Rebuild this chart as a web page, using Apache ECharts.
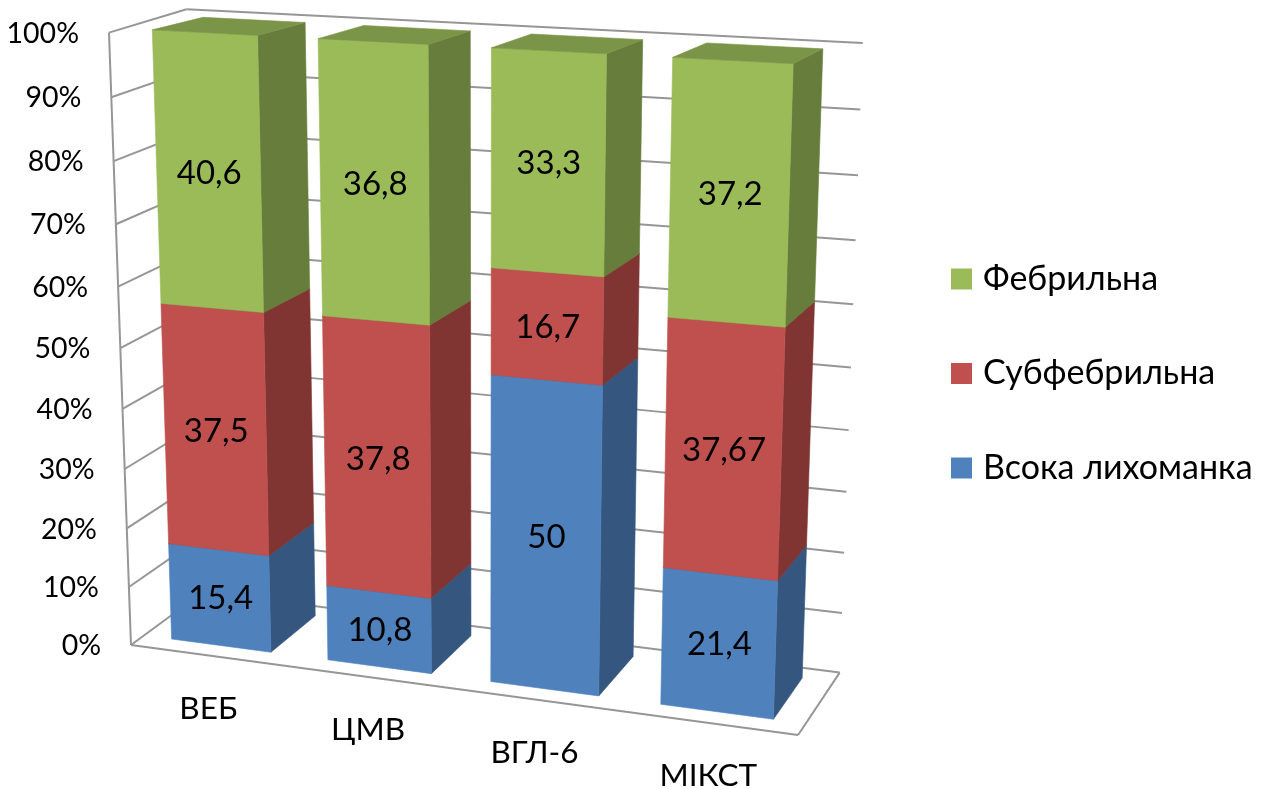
<!DOCTYPE html>
<html>
<head>
<meta charset="utf-8">
<style>html,body{margin:0;padding:0;background:#fff}#chart{width:1267px;height:789px}</style>
<script src="https://cdn.jsdelivr.net/npm/echarts@6/dist/echarts.min.js"></script>
</head>
<body>
<div id="chart"></div>
<script>
// Share of fever grades per infection group, drawn as 100% stacked columns in perspective.
const categories = ['ВЕБ', 'ЦМВ', 'ВГЛ-6', 'МІКСТ'];
const seriesNames = ['Всока лихоманка', 'Субфебрильна', 'Фебрильна'];
const highFever = [15.4, 10.8, 50, 21.4];
const subfebrile = [37.5, 37.8, 16.7, 37.67];
const febrile = [40.6, 36.8, 33.3, 37.2];
const valueTicks = [0, 10, 20, 30, 40, 50, 60, 70, 80, 90, 100];
const tickLabels = ['0%', '10%', '20%', '30%', '40%', '50%', '60%', '70%', '80%', '90%', '100%'];

const seriesValues = [highFever, subfebrile, febrile];
const faceColors = [
  { front: '#4F81BD', side: '#34567F', top: '#3F6797' },
  { front: '#C0504D', side: '#803533', top: '#9A403E' },
  { front: '#9BBB59', side: '#677D3B', top: '#7A9448' }
];
const FONT = 'Lato, "Open Sans", sans-serif';

// Camera: vanishing points of the width, height and depth directions,
// plus the screen position of the near-left floor corner and the axis unit points.
const VP = { u: [-7377, -368], v: [482, 10412], w: [1558, -405] };
const ORIGIN = [131, 645];
const K = { u: -0.0816, v: -0.059, w: 0.0532 };
const BAR_HALF_SHARE = 0.32;          // half bar width as a share of the category band
const DEPTH_NEAR = 0.175, DEPTH_FAR = 0.84;
const FAR_HEIGHT_SCALE = 0.995;       // rear edges of a column sit a touch lower

function project(u, v, w) {
  const a = K.u * u, b = K.v * v, c = K.w * w, d = a + b + c + 1;
  return [
    (a * VP.u[0] + b * VP.v[0] + c * VP.w[0] + ORIGIN[0]) / d,
    (a * VP.u[1] + b * VP.v[1] + c * VP.w[1] + ORIGIN[1]) / d
  ];
}

// Grid pixels (from the hidden cartesian axes) to unit scene coordinates.
function unit(pt, cs) {
  return [(pt[0] - cs.x) / cs.width, (cs.y + cs.height - pt[1]) / cs.height];
}

function poly(points, fill) {
  return { type: 'polygon', shape: { points }, style: { fill, stroke: fill, lineWidth: 0.6 } };
}
function seg(a, b) {
  return {
    type: 'line',
    shape: { x1: a[0], y1: a[1], x2: b[0], y2: b[1] },
    style: { stroke: '#969696', lineWidth: 2 }
  };
}
function label(text, p, size, align) {
  return {
    type: 'text',
    style: { text, x: p[0], y: p[1], fill: '#000', font: size + 'px ' + FONT, align, verticalAlign: 'middle' }
  };
}

function renderWallLine(params, api) {
  const cs = params.coordSys;
  const v = unit(api.coord([0, api.value(0)]), cs)[1];
  const near = project(0, v, 0), corner = project(0, v, 1), far = project(1, v, 1);
  return {
    type: 'group',
    children: [
      seg(near, corner),
      seg(corner, far),
      label(tickLabels[params.dataIndex], [near[0] - 30, near[1] + 1], 28.5, 'right')
    ]
  };
}

function renderFrame(params, api) {
  const cs = params.coordSys;
  const children = [
    seg(project(0, 0, 0), project(0, 1, 0)),
    seg(project(0, 0, 0), project(1, 0, 0)),
    seg(project(1, 0, 0), project(1, 0, 1))
  ];
  categories.forEach((name, i) => {
    const u = unit(api.coord([i, 0]), cs)[0];
    const p = project(u, 0, 0);
    children.push(label(name, [p[0], p[1] + 53], 31.5, 'center'));
  });
  return { type: 'group', children };
}

function renderSegment(params, api) {
  const cs = params.coordSys;
  const colors = faceColors[params.seriesIndex - 2];
  const cat = api.value(0);
  const lo = unit(api.coord([cat, api.value(1)]), cs);
  const hi = unit(api.coord([cat, api.value(2)]), cs);
  const half = api.size([1, 0])[0] * BAR_HALF_SHARE / cs.width;
  const L = lo[0] - half, R = lo[0] + half;
  const P = (u, v, w) => project(u, v, w);
  const loFar = lo[1] * FAR_HEIGHT_SCALE, hiFar = hi[1] * FAR_HEIGHT_SCALE;
  const mid = P(lo[0], (lo[1] + hi[1]) / 2, DEPTH_NEAR);
  return {
    type: 'group',
    children: [
      poly([P(R, lo[1], DEPTH_NEAR), P(R, loFar, DEPTH_FAR), P(R, hiFar, DEPTH_FAR), P(R, hi[1], DEPTH_NEAR)], colors.side),
      poly([P(L, lo[1], DEPTH_NEAR), P(R, lo[1], DEPTH_NEAR), P(R, hi[1], DEPTH_NEAR), P(L, hi[1], DEPTH_NEAR)], colors.front),
      poly([P(L, hi[1], DEPTH_NEAR), P(R, hi[1], DEPTH_NEAR), P(R, hiFar, DEPTH_FAR), P(L, hiFar, DEPTH_FAR)], colors.top),
      label(String(api.value(3)).replace('.', ','), [mid[0] + 1, mid[1] + 1], 33, 'center')
    ]
  };
}

// Each column is normalised to 100%, the printed label keeps the source value.
const totals = categories.map((_, i) => seriesValues.reduce((s, arr) => s + arr[i], 0));
function stackedData(k) {
  return categories.map((_, i) => {
    const below = seriesValues.slice(0, k).reduce((s, arr) => s + arr[i], 0);
    return [i, below / totals[i] * 100, (below + seriesValues[k][i]) / totals[i] * 100, seriesValues[k][i]];
  });
}

const chart = echarts.init(document.getElementById('chart'), null, { renderer: 'canvas' });
chart.setOption({
  animation: false,
  backgroundColor: '#fff',
  grid: { left: 100, top: 100, width: 700, height: 500 },
  xAxis: { type: 'category', data: categories, show: false },
  yAxis: { type: 'value', min: 0, max: 100, interval: 10, show: false },
  legend: {
    orient: 'vertical',
    left: 951,
    top: 262,
    padding: 0,
    itemWidth: 21,
    itemHeight: 21,
    itemGap: 60.5,
    icon: 'rect',
    data: [seriesNames[2], seriesNames[1], seriesNames[0]],
    textStyle: { fontFamily: FONT, fontSize: 34, color: '#000', padding: [0, 0, 0, 6] }
  },
  series: [
    { type: 'custom', name: 'wall', silent: true, renderItem: renderWallLine, data: valueTicks.map(t => [t]), encode: { y: 0 } },
    { type: 'custom', name: 'frame', silent: true, renderItem: renderFrame, data: [[0]] }
  ].concat(seriesNames.map((name, k) => ({
    type: 'custom',
    name,
    silent: true,
    itemStyle: { color: faceColors[k].front },
    renderItem: renderSegment,
    data: stackedData(k),
    encode: { x: 0, y: [1, 2] }
  })))
});
</script>
</body>
</html>
